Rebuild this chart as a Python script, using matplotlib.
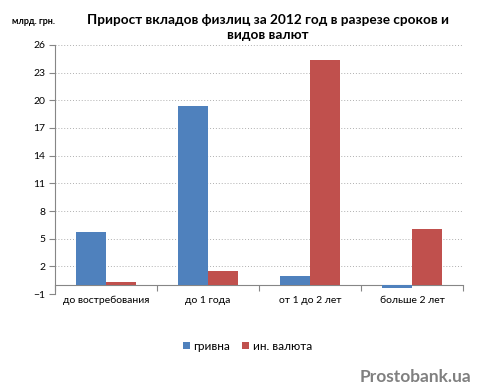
import matplotlib
matplotlib.use("Agg")
import matplotlib.pyplot as plt
import numpy as np

# data
categories = ["до востребования", "до 1 года", "от 1 до 2 лет", "больше 2 лет"]
uah = [5.7, 19.4, 1.0, -0.3]
fx = [0.3, 1.5, 24.4, 6.0]
series_names = ["гривна", "ин. валюта"]
yticks = [-1, 2, 5, 8, 11, 14, 17, 20, 23, 26]

plt.rcParams['font.family'] = ['Lato', 'DejaVu Sans']

fig = plt.figure(figsize=(4.8, 3.91), dpi=100)
ax = fig.add_axes([0.1146, 0.248, 0.85, 0.637])

x = np.arange(len(categories))
w = 0.29
ax.bar(x - w / 2, uah, w, color="#4F81BD", label=series_names[0], zorder=3)
ax.bar(x + w / 2, fx, w, color="#C0504D", label=series_names[1], zorder=3)

ax.set_xlim(-0.5, len(categories) - 0.5)
ax.set_ylim(yticks[0], yticks[-1])
ax.set_yticks(yticks)
ax.tick_params(axis='y', labelsize=7.5, length=4, color="#868686", pad=3)
ax.grid(axis='y', linestyle=(0, (1, 2)), color="#b0b0b0", linewidth=0.7, zorder=0)

# horizontal axis crosses at zero, labels stay at the bottom
ax.spines['bottom'].set_position(('data', 0))
ax.spines['bottom'].set_color("#868686")
ax.spines['left'].set_color("#868686")
ax.spines['top'].set_visible(False)
ax.spines['right'].set_visible(False)
ax.set_xticks(np.arange(-0.5, len(categories)), minor=False)
ax.set_xticklabels([])
ax.tick_params(axis='x', which='major', length=4, color="#868686")
ax.set_xticks(x, minor=True)
ax.set_xticklabels(categories, minor=True, fontsize=7.5)
ax.tick_params(axis='x', which='minor', length=0, pad=8)

fig.text(0.558, 0.965, "Прирост вкладов физлиц за 2012 год в разрезе сроков и\nвидов валют",
         ha='center', va='top', fontsize=9.8, fontweight='bold', linespacing=1.35)
fig.text(0.025, 0.944, "млрд. грн.", fontsize=6.5, fontweight='bold', va='center')

fig.legend(loc='center', bbox_to_anchor=(0.515, 0.115), ncol=2, frameon=False,
           fontsize=8.5, handlelength=0.6, handleheight=0.6, handletextpad=0.3,
           columnspacing=1.0)

fig.text(0.983, 0.035, "Prostobank.ua", ha='right', va='center', fontsize=12.5,
         fontweight='bold', color="#808080")

fig.savefig("out.png", dpi=100)
